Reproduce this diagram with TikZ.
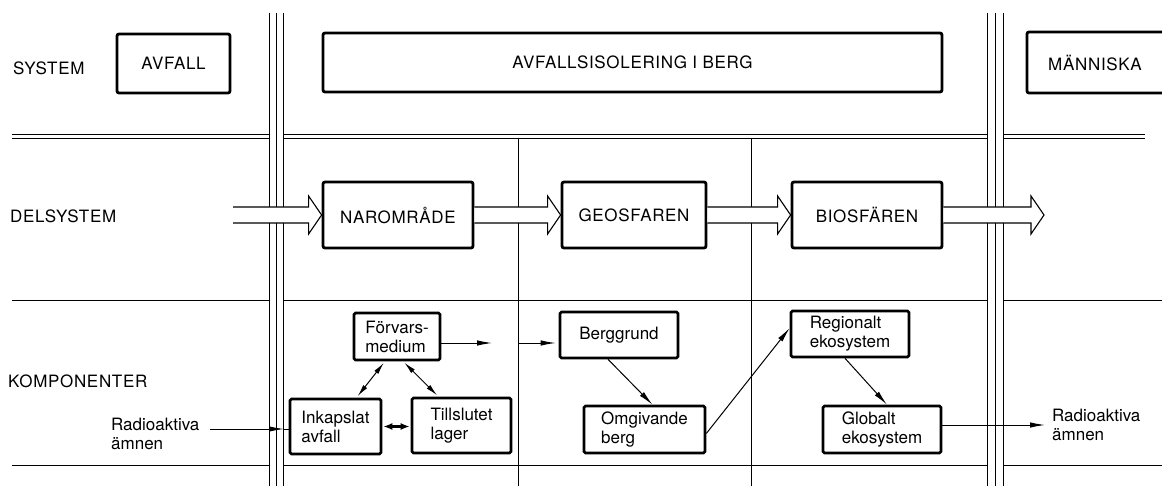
\documentclass[tikz,border=0pt]{standalone}
\usepackage{fontspec}
\setmainfont{TeX Gyre Heros}
\newfontfamily\capsfont[LetterSpace=4]{TeX Gyre Heros}
\usetikzlibrary{arrows.meta,calc}

% wide hollow arrow between two points on the same height
\newcommand{\widearrow}[2]{%
  \draw[fatarrow] ($(#1)+(0,-8)$) -- ($(#2)+(-13,-8)$) -- ($(#2)+(-13,-19)$) -- (#2)
    -- ($(#2)+(-13,19)$) -- ($(#2)+(-13,8)$) -- ($(#1)+(0,8)$);}

\begin{document}
\begin{tikzpicture}[x=1pt,y=-1pt,
  font=\fontsize{17}{19}\selectfont,
  grid/.style={line width=0.8pt},
  rowlabel/.style={anchor=west,inner sep=0pt,font=\capsfont\fontsize{17}{19}\selectfont},
  bigbox/.style={draw,line width=2.8pt,rounded corners=2pt,minimum height=66,inner sep=0pt,font=\capsfont\fontsize{17}{19}\selectfont},
  compbox/.style={draw,line width=2.6pt,rounded corners=1.5pt,align=left,minimum height=47,inner sep=0pt},
  fatarrow/.style={draw,fill=white,line width=1.1pt,line join=miter},
  flow/.style={line width=1pt,-{Latex[length=15pt,width=5.5pt]}},
  twoway/.style={line width=1pt,{Latex[length=12pt,width=5pt]}-{Latex[length=12pt,width=5pt]},shorten <=2,shorten >=2},
  shortway/.style={line width=2.2pt,{Latex[length=9pt,width=7pt]}-{Latex[length=9pt,width=7pt]},shorten <=1,shorten >=1}]
\useasboundingbox (0,0) rectangle (1162,486);

% grid lines
\foreach \x in {269,276,283,987,995,1003}
  \draw[grid] (\x,13) -- (\x,486);
\foreach \x in {518,751}
  \draw[grid] (\x,138) -- (\x,486);
\foreach \y in {134.5,138.5} {
  \draw[grid] (12,\y) -- (269,\y);
  \draw[grid] (283,\y) -- (987,\y);
  \draw[grid] (1003,\y) -- (1145,\y);
}
\foreach \y in {300,465} {
  \draw[grid] (12,\y) -- (269,\y);
  \draw[grid] (283,\y) -- (987,\y);
  \draw[grid] (1003,\y) -- (1162,\y);
}

% row labels
\node[rowlabel] (sys) at (13,68) {SYSTEM};
\node[rowlabel] (delsys) at (10,216) {DELSYSTEM};
\node[rowlabel] (komp) at (8,381) {KOMPONENTER};

% system row
\node[bigbox,minimum width=113,minimum height=59] (avfall) at (173.5,63.5) {AVFALL};
\node[bigbox,minimum width=619,minimum height=59] (isol) at (632.5,62.5) {AVFALLSISOLERING I BERG};
\node[font=\capsfont\fontsize{17}{19}\selectfont] (manniska) at (1095,63) {MÄNNISKA};
\draw[line width=2.8pt,rounded corners=2pt] (1170,32) -- (1027,32) -- (1027,93) -- (1170,93);

% delsystem row
\node[bigbox,minimum width=150] (nar) at (398,215) {NAROMRÅDE};
\node[bigbox,minimum width=144] (geo) at (634,215) {GEOSFAREN};
\node[bigbox,minimum width=150] (bio) at (867,215) {BIOSFÄREN};
\coordinate (flowin) at (233,215);
\coordinate (flowout) at (1044,215);
\widearrow{flowin}{nar.west}
\widearrow{nar.east}{geo.west}
\widearrow{geo.east}{bio.west}
\widearrow{bio.east}{flowout}

% komponenter row
\node[compbox,minimum width=86] (forvars) at (397,336.5) {Förvars-\\medium};
\node[compbox,minimum width=91,minimum height=55] (inkap) at (335.5,426.5) {Inkapslat\\avfall};
\node[compbox,minimum width=99,minimum height=55] (tillsl) at (461.5,425.5) {Tillslutet\\lager};
\node[compbox,minimum width=118,minimum height=46] (berg) at (619,335) {Berggrund};
\node[compbox,minimum width=121] (omgiv) at (644.5,429.5) {Omgivande\\berg};
\node[compbox,minimum width=118,minimum height=46] (region) at (850,334) {Regionalt\\ekosystem};
\node[compbox,minimum width=118] (global) at (882,429.5) {Globalt\\ekosystem};

\node[align=left,anchor=west,inner sep=0pt] (radin) at (111,434) {Radioaktiva\\ämnen};
\node[align=left,anchor=west,inner sep=0pt] (radut) at (1052,425) {Radioaktiva\\ämnen};

\coordinate (rin) at (210,429);
\coordinate (gate) at (284,429);
\coordinate (gapa) at (492,343);
\coordinate (gapb) at (518,343);

\draw[flow] (rin) -- (gate);
\draw[line width=1pt] (gate) -- (inkap.west |- gate);
\draw[twoway] ([xshift=-12]forvars.south) -- ([xshift=21]inkap.north);
\draw[twoway] ([xshift=6]forvars.south) -- ([xshift=-23]tillsl.north);
\draw[shortway] (inkap.east) -- (tillsl.west |- inkap.east);
\draw[flow] (forvars.east |- gapa) -- (gapa);
\draw[flow,shorten >=3] (gapb) -- (berg.west |- gapb);
\draw[flow] ([xshift=-11]berg.south) -- ([xshift=8]omgiv.north);
\draw[flow] ([yshift=-4]omgiv.east) -- ([yshift=6]region.west);
\draw[flow] ([xshift=-5]region.south) -- ([xshift=5]global.north);
\draw[flow] (global.east |- radut.west) -- ([xshift=-7]radut.west);
\end{tikzpicture}
\end{document}
